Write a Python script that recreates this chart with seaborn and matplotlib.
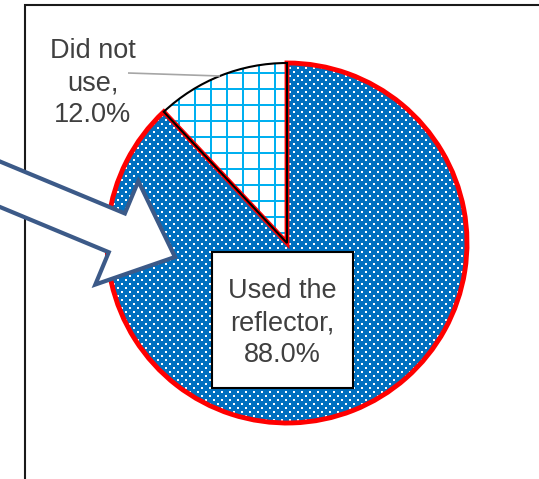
import numpy as np
import matplotlib
matplotlib.use("Agg")
import matplotlib.pyplot as plt
from matplotlib.patches import Rectangle, FancyArrow
import seaborn as sns

# Survey shares
categories = ["Did not\nuse", "Used the\nreflector"]
shares = [12.0, 88.0]

sns.set_theme(style="white")
plt.rcParams["font.family"] = ["Liberation Sans", "DejaVu Sans"]

BLUE = "#0070C0"
CYAN = "#00B0F0"
RED = "#FF0000"
TEXT = "#404040"

W, H = 539, 479
fig = plt.figure(figsize=(W / 100, H / 100), dpi=100)
ax = fig.add_axes([0, 0, 1, 1])

center = (287, H - 243)
radius = 180

# Filled slices
faces, _ = ax.pie(shares, colors=["white", BLUE], startangle=90, counterclock=True,
                  center=center, radius=radius,
                  wedgeprops=dict(linewidth=0))
for w in faces:
    w.set_zorder(1)

# Fill textures: white dots on the blue slice, cyan grid on the white slice
yy, xx = np.mgrid[0:H, 0:W]
dots = (((xx - 381) % 8 < 2) & ((yy - 151) % 8 < 2)) | \
       (((xx - 377) % 8 < 2) & ((yy - 147) % 8 < 2))
dot_img = np.zeros((H, W, 4))
dot_img[dots] = [1, 1, 1, 1]
grid = ((xx - 178) % 16 < 2) | ((yy - 88) % 16 < 2)
grid_img = np.zeros((H, W, 4))
grid_img[grid] = list(matplotlib.colors.to_rgb(CYAN)) + [1]

for img, wedge in ((grid_img, faces[0]), (dot_img, faces[1])):
    im = ax.imshow(img, extent=(0, W, 0, H), origin="upper",
                   interpolation="nearest", zorder=2)
    im.set_clip_path(wedge)

# Slice outlines
edges, _ = ax.pie(shares, startangle=90, counterclock=True,
                  center=center, radius=radius,
                  wedgeprops=dict(fill=False))
edges[1].set_edgecolor(RED)
edges[1].set_linewidth(3.5)
edges[1].set_zorder(3)
edges[0].set_edgecolor("black")
edges[0].set_linewidth(1.5)
edges[0].set_zorder(4)

ax.set_xlim(0, W)
ax.set_ylim(0, H)
ax.set_aspect("auto")
ax.axis("off")

labels = [f"{c},\n{v:.1f}%" for c, v in zip(categories, shares)]

# Outside label with leader line
ax.plot([128, 220], [H - 73, H - 76], color="#A6A6A6", lw=1.2, zorder=5,
        solid_capstyle="butt")
ax.text(93, H - 83, labels[0], ha="center", va="center", fontsize=19.5,
        color=TEXT, linespacing=1.29, zorder=6)

# Boxed label inside the large slice
ax.add_patch(Rectangle((212, H - 388), 141, 136, facecolor="white",
                       edgecolor="black", lw=1.5, zorder=5))
ax.text(282.5, H - 323, labels[1], ha="center", va="center", fontsize=19.5,
        color=TEXT, linespacing=1.29, zorder=6)

# Chart area border
ax.add_patch(Rectangle((25, -20), 700, H - 5 + 20, facecolor="none",
                       edgecolor="#1a1a1a", lw=1.5, zorder=0.5, clip_on=False))

# Block arrow pointing at the large slice
ax.add_patch(FancyArrow(-68, H - 156, 243, -101, width=42, head_width=112,
                        head_length=63, length_includes_head=True,
                        facecolor="white", edgecolor="#3C5A88", lw=3,
                        joinstyle="miter", zorder=7))

fig.savefig("out.png", dpi=100)
